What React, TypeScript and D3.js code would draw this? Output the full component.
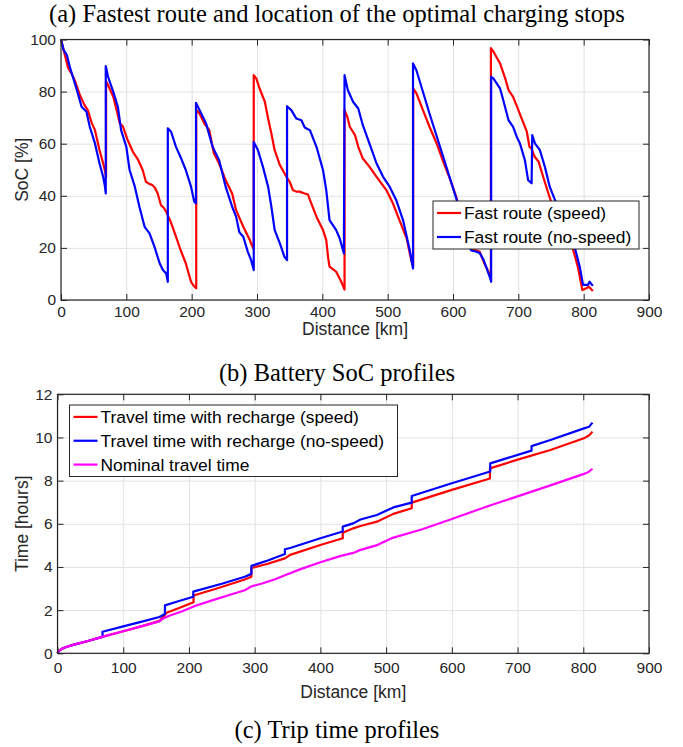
import React, { useRef, useEffect } from "react";
import { select, scaleLinear, line, axisBottom, axisLeft, axisTop, axisRight } from "d3";

// SoC [%] vs distance [km]
const socSpeed: [number, number][] = [
  [0, 100], [3, 97], [6, 94], [11, 89], [16, 87], [21, 84.4], [29, 78.6], [36, 74.8], [41, 72.9], [47, 68], [52, 65.2], [59, 57.5], [64, 53], [67, 49.9], [69, 47.3],
  [69, 84], [72, 82.5], [80, 78], [86, 72], [90, 67.8], [95, 66.5], [102, 61.4], [110, 56.9], [117, 54.3], [125, 49.9], [130, 45.4], [135, 44.6], [140, 44.1], [144, 43], [148, 40.9], [153, 36.4], [157, 35.5], [161, 33.9], [168, 30], [176, 24.3], [183, 19.2], [191, 14.1], [199, 7], [203, 5.5], [207, 4.5],
  [207, 73], [212, 71.6], [220, 67.5], [227, 65.2], [234, 56.3], [242, 52.4], [252, 46], [262, 40.9], [268, 34.5], [279, 28.1], [289, 23], [293, 20.5], [295, 19.5],
  [295, 86.3], [299, 85], [304, 81.2], [312, 76.1], [317, 69.7], [322, 63.9], [327, 57.5], [335, 51.8], [345, 47.3], [350, 45.4], [355, 42.2], [360, 41.6], [365, 41.6], [373, 40.9], [378, 40.5], [381, 38.4], [391, 32], [401, 26.9], [406, 23], [409, 16], [411, 12.8], [421, 10.9], [429, 7], [434, 4],
  [434, 72.9], [438, 70.5], [442, 66.5], [450, 63.3], [455, 58.8], [462, 54.3], [472, 51.2], [483, 47.3], [498, 42.2], [508, 37.1], [518, 30.7], [529, 23.7], [536, 15.3], [539, 13],
  [539, 81.2], [544, 79.3], [554, 72.9], [564, 66.5], [575, 60.1], [585, 53.1], [595, 46.7], [605, 39.6], [615, 30], [622, 23], [628, 19.5], [636, 19], [641, 18.5], [648, 14], [654, 11], [658, 9],
  [658, 96.7], [662, 95.3], [672, 90.8], [680, 85], [685, 80.6], [692, 78], [698, 74.2], [705, 69.7], [713, 64.6], [717, 58.8], [720, 58.2], [725, 55], [731, 53.1], [738, 47.3], [746, 40.9], [751, 37.1], [760, 32], [770, 26], [784, 19.2], [791, 12.8], [798, 3.8], [804, 4.5], [808, 5.1], [814, 3.5],
];

const socNoSpeed: [number, number][] = [
  [0, 100], [4, 96], [9, 94], [14, 89], [19, 85], [25, 80], [31.5, 74.2], [39, 72.3], [44, 66.5], [52, 60.1], [59, 52.4], [64.5, 47.3], [67, 44], [68.5, 40.9],
  [68.5, 89.8], [72, 85.7], [80, 79.9], [87, 74.2], [92, 65.2], [100, 58.8], [105, 49.9], [113, 43.5], [120, 35.8], [128, 28.1], [135.5, 25.6], [143, 20.5], [151, 14.1], [156, 11.5], [161, 10.2], [163.5, 7],
  [163.5, 65.9], [168.5, 64.6], [176, 58.8], [184, 54.3], [191, 49.9], [199, 43.5], [204, 37.7], [206.6, 37.1],
  [206.6, 75.7], [212, 72.9], [222, 67.8], [232, 58.8], [242, 53.7], [252, 43.5], [262, 35.8], [268, 32], [273, 26], [279, 24.3], [286, 18.5], [291, 15.3], [295, 11.5],
  [295, 60.7], [301.5, 57.5], [309, 51.2], [317, 43.5], [322, 35.8], [327, 26.9], [335, 21.7], [342, 16.6], [346, 15.3],
  [346, 74.4], [352.5, 72.9], [360, 69.7], [368, 69], [373, 66.2], [381, 65.2], [391, 58.8], [401, 49.9], [406, 42.2], [411, 30.7], [421, 26.9], [426.5, 23.7], [433, 17.9],
  [434, 86.3], [439, 80.6], [447, 76.1], [455, 73.5], [462, 67.1], [472, 60.1], [483, 52.4], [493, 47.3], [503, 43.5], [513, 38.4], [523.5, 30.7], [533.7, 19.2], [538.8, 12.1],
  [538.8, 90.8], [544, 88.2], [564, 71.6], [585, 55], [605, 39], [615, 30], [622, 22], [628, 19], [636, 18.5], [641, 18], [647, 15.3], [657, 8.3], [658.4, 7],
  [658.4, 85.7], [662, 85], [672, 81.2], [677, 76.7], [685, 69], [692, 66.5], [697.5, 62.7], [702.5, 60.1], [710, 53.7], [715, 46], [720.3, 44.8],
  [721.3, 63.3], [725.4, 60.1], [733, 57.5], [740.6, 51.2], [748, 43.5], [756, 38.4], [765, 33], [775, 27], [786, 20.5], [794, 12.8], [799, 5.8], [806.6, 5.8], [809, 7], [814, 5.4],
];

// Time [hours] vs distance [km]
const timeNominal: [number, number][] = [
  [0, 0], [2, 0.1], [6, 0.2], [12, 0.28], [25, 0.4], [45, 0.56], [68, 0.76], [100, 1.02], [130, 1.27], [155, 1.48], [160, 1.6], [170, 1.74], [190, 1.95], [210, 2.2], [240, 2.5], [270, 2.78], [285, 2.92], [295, 3.1], [310, 3.22], [330, 3.42], [346, 3.62], [370, 3.9], [400, 4.22], [430, 4.5], [450, 4.65], [460, 4.78], [485, 5.0], [510, 5.35], [555, 5.75], [600, 6.22], [658, 6.85], [700, 7.27], [750, 7.78], [800, 8.3], [808, 8.4], [814, 8.55],
];

const timeSpeed: [number, number][] = [
  [0, 0], [2, 0.1], [6, 0.2], [12, 0.28], [25, 0.4], [45, 0.56], [68, 0.76], [100, 1.02], [130, 1.27], [155, 1.5], [160, 1.66], [166, 1.88], [185, 2.1], [207, 2.37],
  [207, 2.68], [240, 2.98], [285, 3.42], [295, 3.55],
  [295, 3.95], [320, 4.15], [346, 4.4], [354, 4.56], [400, 5.02], [434, 5.33],
  [434, 5.59], [450, 5.79], [461, 5.9], [486, 6.1], [511, 6.46], [539, 6.72],
  [539, 6.98], [600, 7.57], [658, 8.1],
  [658, 8.57], [699, 8.96], [750, 9.42], [801, 9.96], [809, 10.1], [814, 10.27],
];

const timeNoSpeed: [number, number][] = [
  [0, 0], [2, 0.1], [6, 0.2], [12, 0.28], [25, 0.4], [45, 0.56], [68.5, 0.76],
  [68.5, 1.0], [100, 1.25], [130, 1.48], [155, 1.68], [163.5, 1.82],
  [163.5, 2.22], [185, 2.42], [206.6, 2.62],
  [206.6, 2.86], [250, 3.22], [285, 3.55], [295, 3.68],
  [295, 4.05], [320, 4.3], [346, 4.6],
  [346, 4.82], [354, 4.88], [400, 5.33], [434, 5.64],
  [434, 5.87], [450, 6.02], [461, 6.2], [486, 6.41], [511, 6.76], [539, 6.98],
  [539, 7.29], [600, 7.88], [658.4, 8.42],
  [658.4, 8.8], [721.3, 9.39],
  [721.3, 9.6], [750, 9.88], [801, 10.42], [809, 10.5], [814, 10.69],
];

const distTicks = [0, 100, 200, 300, 400, 500, 600, 700, 800, 900];
const socTicks = [0, 20, 40, 60, 80, 100];
const timeTicks = [0, 2, 4, 6, 8, 10, 12];

const socLegend = ["Fast route (speed)", "Fast route (no-speed)"];
const timeLegend = [
  "Travel time with recharge (speed)",
  "Travel time with recharge (no-speed)",
  "Nominal travel time",
];
const captions = [
  "(a) Fastest route and location of the optimal charging stops",
  "(b) Battery SoC profiles",
  "(c) Trip time profiles",
];

const RED = "#ff0000";
const BLUE = "#0000ff";
const MAGENTA = "#ff00ff";
const AXIS = "#262626";
const GRID = "#e2e2e2";
const SANS = "'Liberation Sans', Arial, Helvetica, sans-serif";
const SERIF = "'Liberation Serif', 'Times New Roman', serif";

type Panel = {
  left: number; right: number; top: number; bottom: number;
  yMax: number; yTicks: number[]; yLabel: string;
  xPad: number; xLabelY: number;
  series: { data: [number, number][]; color: string }[];
  legend: { x: number; y: number; w: number; h: number; labels: string[]; colors: string[] };
};

const drawPanel = (svg: any, p: Panel) => {
  const x = scaleLinear().domain([0, 900]).range([p.left, p.right]);
  const y = scaleLinear().domain([0, p.yMax]).range([p.bottom, p.top]);
  const h = p.bottom - p.top;
  const w = p.right - p.left;
  const g = svg.append("g");

  // Grid
  const gx = g.append("g")
    .attr("transform", `translate(0,${p.bottom})`)
    .call(axisBottom(x).tickValues(distTicks).tickSize(-h).tickFormat(() => ""));
  const gy = g.append("g")
    .attr("transform", `translate(${p.left},0)`)
    .call(axisLeft(y).tickValues(p.yTicks).tickSize(-w).tickFormat(() => ""));
  [gx, gy].forEach((a) => {
    a.select(".domain").remove();
    a.selectAll("line").attr("stroke", GRID).attr("stroke-width", 1);
  });

  // Curves
  const path = line<[number, number]>().x((d) => x(d[0])).y((d) => y(d[1]));
  p.series.forEach((s) => {
    g.append("path")
      .datum(s.data)
      .attr("d", path)
      .attr("fill", "none")
      .attr("stroke", s.color)
      .attr("stroke-width", 2.2)
      .attr("stroke-linejoin", "round");
  });

  // Axes (ticks inward on all sides)
  const tk = 6;
  const axes = [
    g.append("g").attr("transform", `translate(0,${p.bottom})`)
      .call(axisBottom(x).tickValues(distTicks).tickSize(-tk).tickPadding(p.xPad)),
    g.append("g").attr("transform", `translate(${p.left},0)`)
      .call(axisLeft(y).tickValues(p.yTicks).tickSize(-tk).tickPadding(5)),
    g.append("g").attr("transform", `translate(0,${p.top})`)
      .call(axisTop(x).tickValues(distTicks).tickSize(-tk).tickFormat(() => "")),
    g.append("g").attr("transform", `translate(${p.right},0)`)
      .call(axisRight(y).tickValues(p.yTicks).tickSize(-tk).tickFormat(() => "")),
  ];
  axes.forEach((a) => {
    a.select(".domain").remove();
    a.selectAll("line").attr("stroke", AXIS);
    a.selectAll("text")
      .attr("fill", AXIS)
      .style("font-family", SANS)
      .style("font-size", "15.5px");
  });

  g.append("rect")
    .attr("x", p.left).attr("y", p.top)
    .attr("width", w).attr("height", h)
    .attr("fill", "none").attr("stroke", AXIS).attr("stroke-width", 1.2);

  // Axis labels
  g.append("text")
    .attr("x", (p.left + p.right) / 2)
    .attr("y", p.xLabelY)
    .attr("text-anchor", "middle")
    .attr("fill", AXIS)
    .style("font-family", SANS)
    .style("font-size", "17.5px")
    .text("Distance [km]");

  g.append("text")
    .attr("transform", `translate(22,${(p.top + p.bottom) / 2}) rotate(-90)`)
    .attr("text-anchor", "middle")
    .attr("dy", "0.35em")
    .attr("fill", AXIS)
    .style("font-family", SANS)
    .style("font-size", "17.5px")
    .text(p.yLabel);

  // Legend
  const L = p.legend;
  const lg = g.append("g");
  lg.append("rect")
    .attr("x", L.x).attr("y", L.y).attr("width", L.w).attr("height", L.h)
    .attr("fill", "#ffffff").attr("stroke", AXIS).attr("stroke-width", 1);
  const rowH = L.h / L.labels.length;
  L.labels.forEach((lab, i) => {
    const cy = L.y + rowH * (i + 0.5);
    lg.append("line")
      .attr("x1", L.x + 4).attr("x2", L.x + 28)
      .attr("y1", cy).attr("y2", cy)
      .attr("stroke", L.colors[i]).attr("stroke-width", 2.2);
    lg.append("text")
      .attr("x", L.x + 31).attr("y", cy)
      .attr("dy", "0.36em")
      .attr("fill", "#000")
      .style("font-family", SANS)
      .style("font-size", "17.4px")
      .text(lab);
  });
};

const App = () => {
  const svgRef = useRef<SVGSVGElement>(null);

  useEffect(() => {
    document.body.style.margin = "0";
    const svg = select(svgRef.current);
    svg.selectAll("*").remove();

    drawPanel(svg, {
      left: 61, right: 649, top: 39.5, bottom: 300,
      yMax: 100, yTicks: socTicks, yLabel: "SoC [%]",
      xPad: 6, xLabelY: 335,
      series: [
        { data: socSpeed, color: RED },
        { data: socNoSpeed, color: BLUE },
      ],
      legend: { x: 433, y: 201, w: 206, h: 48, labels: socLegend, colors: [RED, BLUE] },
    });

    drawPanel(svg, {
      left: 57.5, right: 649, top: 394.3, bottom: 653.3,
      yMax: 12, yTicks: timeTicks, yLabel: "Time [hours]",
      xPad: 9, xLabelY: 698,
      series: [
        { data: timeSpeed, color: RED },
        { data: timeNoSpeed, color: BLUE },
        { data: timeNominal, color: MAGENTA },
      ],
      legend: { x: 69.5, y: 405, w: 328, h: 71.5, labels: timeLegend, colors: [RED, BLUE, MAGENTA] },
    });

    // Captions
    const capY = [22, 381, 738];
    captions.forEach((c, i) => {
      svg.append("text")
        .attr("x", 337)
        .attr("y", capY[i])
        .attr("text-anchor", "middle")
        .attr("fill", "#000")
        .style("font-family", SERIF)
        .style("font-size", "24.5px")
        .text(c);
    });
  }, []);

  return <svg ref={svgRef} width={683} height={747} style={{ display: "block" }} />;
};

export default App;
